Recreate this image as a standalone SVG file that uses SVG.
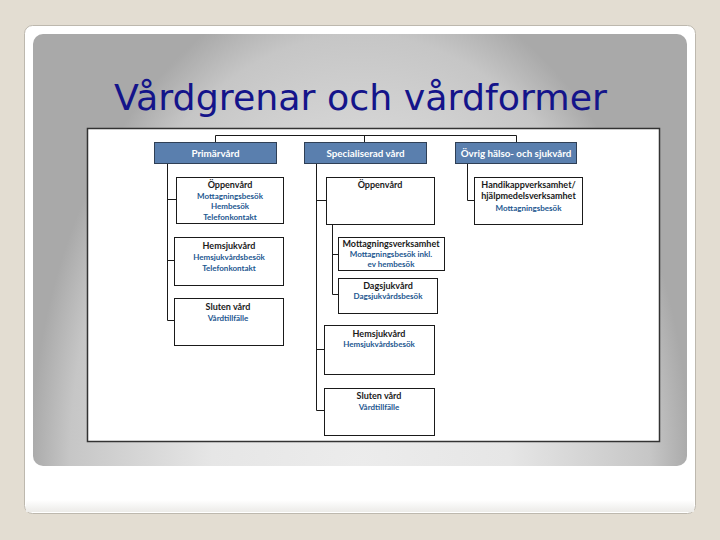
<svg xmlns="http://www.w3.org/2000/svg" width="720" height="540" viewBox="0 0 720 540">
<defs>
<radialGradient id="panelGrad" gradientUnits="userSpaceOnUse" cx="360" cy="470" r="330" gradientTransform="translate(360 470) scale(1 1.5) translate(-360 -470)">
<stop offset="0" stop-color="#ececec"/>
<stop offset="0.45" stop-color="#e6e6e6"/>
<stop offset="0.88" stop-color="#c6c6c6"/>
<stop offset="1" stop-color="#a9a9a9"/>
</radialGradient>
<linearGradient id="cardShadow" x1="0" y1="0" x2="0" y2="1">
<stop offset="0" stop-color="#ffffff"/>
<stop offset="1" stop-color="#ecebe8"/>
</linearGradient>
<style>
.hdr{fill:#5a7fae;stroke:#2f3f55;stroke-width:1}
.hdrt{font-family:Lato,"Liberation Sans",sans-serif;font-weight:bold;font-size:9.8px;fill:#ffffff;text-anchor:middle}
.box{fill:#ffffff;stroke:#1a1a1a;stroke-width:1}
.bt{font-family:Lato,"Liberation Sans",sans-serif;font-weight:bold;font-size:9px;fill:#1a1a1a;text-anchor:middle}
.st{font-family:Lato,"Liberation Sans",sans-serif;font-weight:bold;font-size:8px;fill:#1d5790;text-anchor:middle}
.con{fill:none;stroke:#1a1a1a;stroke-width:1}
</style>
</defs>
<rect x="0" y="0" width="720" height="540" fill="#e3ddd2"/>
<rect x="24.5" y="25.5" width="671" height="488" rx="8" fill="#ffffff" stroke="#bdb8ae" stroke-width="1"/>
<rect x="26" y="500" width="668" height="12" fill="url(#cardShadow)"/>
<rect x="33" y="34" width="654" height="432" rx="10" fill="url(#panelGrad)"/>
<text x="114" y="110" font-family="'DejaVu Sans',Verdana,sans-serif" font-size="36" fill="#14148a" textLength="493" lengthAdjust="spacingAndGlyphs">Vårdgrenar och vårdformer</text>
<rect x="87.5" y="128.5" width="572" height="313" fill="#ffffff" stroke="#333333" stroke-width="1.5"/>

<g id="connectors">
<path class="con" d="M215.5 142V135.5H516.5V142"/>
<path class="con" d="M364.5 135.5V142"/>
<path class="con" d="M167.5 163V320.5H174M167.5 199.5H176M167.5 260.5H174"/>
<path class="con" d="M316.5 163V410.5H324M316.5 200.5H326M316.5 349.5H324"/>
<path class="con" d="M332.5 225V294.5H338M332.5 254.5H338"/>
<path class="con" d="M467.5 163V200.5H474"/>
</g>

<g id="primarvard">
<rect class="hdr" x="154.5" y="142.5" width="122" height="21"/>
<text class="hdrt" x="215.5" y="156.5">Primärvård</text>
</g>
<g id="specialiserad">
<rect class="hdr" x="304.5" y="142.5" width="122" height="21"/>
<text class="hdrt" x="365.5" y="156.5">Specialiserad vård</text>
</g>
<g id="ovrig">
<rect class="hdr" x="455.5" y="142.5" width="121" height="21"/>
<text class="hdrt" x="516" y="156.5">Övrig hälso- och sjukvård</text>
</g>

<g id="p-oppenvard">
<rect class="box" x="176.5" y="177.5" width="107" height="46"/>
<text class="bt" x="230" y="188">Öppenvård</text>
<text class="st" x="230" y="198.5">Mottagningsbesök</text>
<text class="st" x="230" y="209">Hembesök</text>
<text class="st" x="230" y="219.5">Telefonkontakt</text>
</g>
<g id="p-hemsjukvard">
<rect class="box" x="174.5" y="237.5" width="109" height="48"/>
<text class="bt" x="229" y="248.5">Hemsjukvård</text>
<text class="st" x="229" y="260">Hemsjukvårdsbesök</text>
<text class="st" x="229" y="271">Telefonkontakt</text>
</g>
<g id="p-sluten">
<rect class="box" x="174.5" y="298.5" width="109" height="47"/>
<text class="bt" x="228" y="310">Sluten vård</text>
<text class="st" x="228" y="321">Vårdtillfälle</text>
</g>

<g id="s-oppenvard">
<rect class="box" x="326.5" y="177.5" width="108" height="47"/>
<text class="bt" x="380" y="187.5">Öppenvård</text>
</g>
<g id="s-mottagning">
<rect class="box" x="338.5" y="237.5" width="106" height="33"/>
<text class="bt" x="391" y="247">Mottagningsverksamhet</text>
<text class="st" x="391" y="257">Mottagningsbesök inkl.</text>
<text class="st" x="391" y="266.5">ev hembesök</text>
</g>
<g id="s-dagsjukvard">
<rect class="box" x="338.5" y="278.5" width="99" height="35"/>
<text class="bt" x="388" y="289">Dagsjukvård</text>
<text class="st" x="388" y="298.5">Dagsjukvårdsbesök</text>
</g>
<g id="s-hemsjukvard">
<rect class="box" x="324.5" y="325.5" width="110" height="49"/>
<text class="bt" x="379" y="337">Hemsjukvård</text>
<text class="st" x="379" y="347">Hemsjukvårdsbesök</text>
</g>
<g id="s-sluten">
<rect class="box" x="324.5" y="388.5" width="110" height="47"/>
<text class="bt" x="379" y="398.5">Sluten vård</text>
<text class="st" x="379" y="410">Vårdtillfälle</text>
</g>

<g id="o-handikapp">
<rect class="box" x="474.5" y="177.5" width="108" height="47"/>
<text class="bt" x="528.5" y="187.5">Handikappverksamhet/</text>
<text class="bt" x="528.5" y="198.5">hjälpmedelsverksamhet</text>
<text class="st" x="528.5" y="211">Mottagningsbesök</text>
</g>
</svg>
